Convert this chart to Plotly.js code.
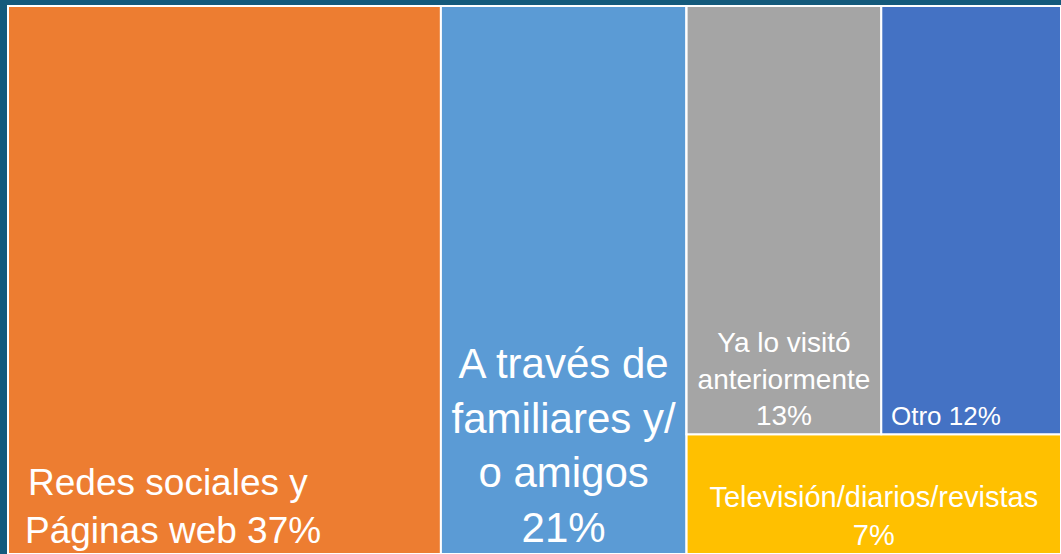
<!DOCTYPE html>
<html>
<head>
<meta charset="utf-8">
<script src="https://cdn.plot.ly/plotly-3.0.1.min.js"></script>
<style>
  html, body { margin: 0; padding: 0; background: #145A7C; }
  #chart { width: 1061px; height: 554px; }
</style>
</head>
<body>
<div id="chart"></div>
<script>
// Data
const ids      = ["redes", "familia", "grupo", "sub", "visito", "otro", "tele"];
const parents  = ["", "", "", "grupo", "sub", "sub", "grupo"];
const labels   = ["Redes sociales y Páginas web", "A través de familiares y/ o amigos", "", "",
                  "Ya lo visitó anteriormente", "Otro", "Televisión/diarios/revistas"];
const values   = [37, 21, 0, 0, 13, 12, 7];
const NB = "\u00a0";
const texts    = [NB + "Redes sociales y" + NB.repeat(12) + "<br>Páginas web 37%" + NB.repeat(10),
                  "A través de<br>familiares y/<br>o amigos<br>21%",
                  "", "",
                  "Ya lo visitó<br>anteriormente<br>13%",
                  "Otro 12%" + NB.repeat(7),
                  "Televisión/diarios/revistas<br>7%"];
const colors   = ["#ED7D31", "#5B9BD5", "#A5A5A5", "#A5A5A5", "#A5A5A5", "#4472C4", "#FFC000"];
const fontSizes = [37, 42, 10, 10, 28, 26, 29];

const trace = {
  type: "treemap",
  ids: ids,
  parents: parents,
  labels: labels,
  values: values,
  text: texts,
  textinfo: "text",
  branchvalues: "remainder",
  sort: false,
  tiling: { packing: "slice-dice", pad: 0 },
  marker: {
    colors: colors,
    line: { color: "#FFFFFF", width: 2 },
    pad: { t: 0, l: 0, r: 0, b: 0 }
  },
  pathbar: { visible: false },
  textfont: { family: "Liberation Sans, Arial, sans-serif", color: "#FFFFFF", size: fontSizes },
  insidetextfont: { family: "Liberation Sans, Arial, sans-serif", color: "#FFFFFF", size: fontSizes },
  textposition: "bottom center",
  hoverinfo: "label+value"
};

const layout = {
  width: 1061,
  height: 554,
  margin: { l: 8, r: 0, t: 6, b: 0 },
  paper_bgcolor: "#145A7C",
  plot_bgcolor: "#145A7C",
  showlegend: false
};

Plotly.newPlot("chart", [trace], layout, { displayModeBar: false, staticPlot: true });
</script>
</body>
</html>
